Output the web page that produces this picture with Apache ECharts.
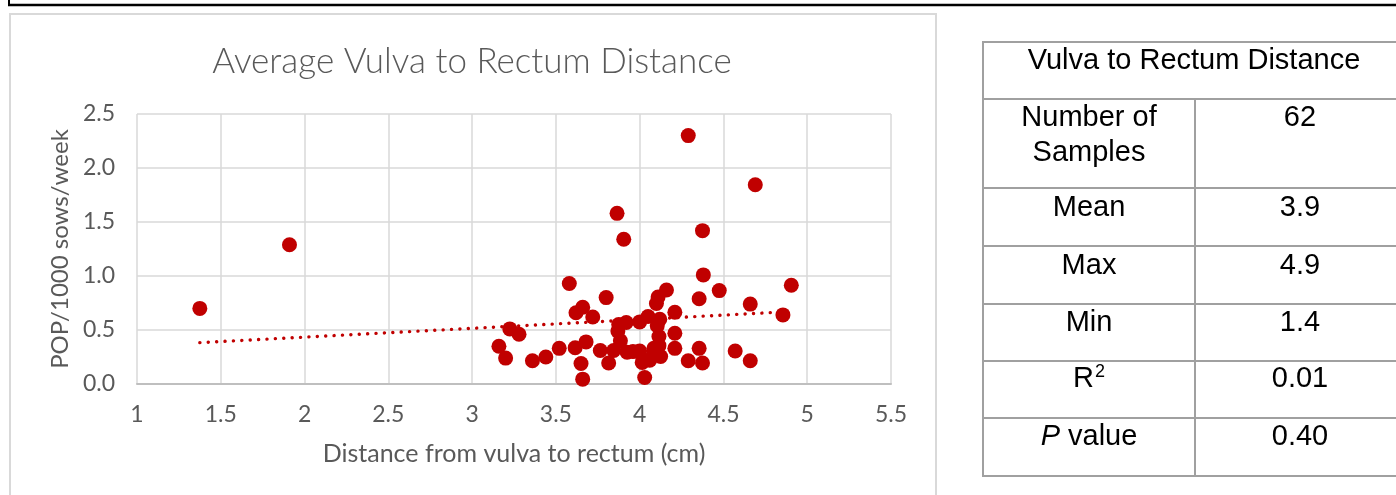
<!DOCTYPE html>
<html>
<head>
<meta charset="utf-8">
<script src="https://cdn.jsdelivr.net/npm/echarts@6/dist/echarts.min.js"></script>
<style>
html,body{margin:0;padding:0;background:#fff;}
#c{width:1396px;height:495px;}
</style>
</head>
<body>
<div id="c"></div>
<script>
// ---- data ----
const distanceCm = [1.375,1.91,3.16,3.20,3.225,3.28,3.36,3.44,3.52,3.58,3.615,3.62,3.65,3.66,3.66,3.68,3.72,3.765,3.80,3.815,3.845,3.865,3.87,3.885,3.905,3.92,3.925,4.0,4.0,4.015,4.03,4.05,4.08,4.10,4.105,4.11,4.115,4.115,4.125,4.16,4.21,4.21,4.21,4.29,4.29,4.355,4.355,4.375,4.375,4.38,4.475,4.57,4.66,4.66,4.69,4.855,4.905,3.875,3.96,4.12,4.085,4.06];
const popPer1000 = [0.70,1.29,0.35,0.24,0.51,0.46,0.215,0.25,0.33,0.93,0.335,0.66,0.19,0.045,0.71,0.39,0.62,0.31,0.80,0.195,0.31,1.58,0.49,0.40,1.34,0.57,0.295,0.575,0.305,0.20,0.06,0.625,0.265,0.745,0.54,0.805,0.44,0.355,0.255,0.87,0.665,0.47,0.33,2.30,0.215,0.79,0.33,0.195,1.42,1.01,0.865,0.305,0.74,0.215,1.845,0.64,0.915,0.55,0.30,0.60,0.33,0.22];
const trendX = [1.375, 4.905];
const trendY = [0.383, 0.671];
const xTicks = [1,1.5,2,2.5,3,3.5,4,4.5,5,5.5];
const yTicks = ['0.0','0.5','1.0','1.5','2.0','2.5'];
const tableHeader = 'Vulva to Rectum Distance';
const tableLabels = ['Number of\nSamples','Mean','Max','Min','{n|R}{s|2}','{i|P} value'];
const tableValues = ['62','3.9','4.9','1.4','0.01','0.40'];

const chart = echarts.init(document.getElementById('c'), null, {renderer:'canvas'});
const points = distanceCm.map((x,i)=>[x, popPer1000[i]]);
const trend = trendX.map((x,i)=>[x, trendY[i]]);

const labelFont = 'Lato, "Open Sans", sans-serif';
const tblFont = '"Liberation Sans", Arial, sans-serif';
const gridCol = '#d9d9d9';
const tblLine = '#a0a0a0';
const TF = 29;

// table geometry
const tL = 983, tT = 42, tHead = 99, tDiv = 1195, tR = 1410;
const rowLines = [99,188,246,304,361,418,476];
const rowTextY = [118,208,266,323,379,437];
const leftCx = 1089, rightCx = 1300;

const g = [];
// top black frame corner
g.push({type:'line', shape:{x1:8, y1:5, x2:1400, y2:5}, style:{stroke:'#000', lineWidth:2.5}, silent:true});
g.push({type:'line', shape:{x1:9, y1:-2, x2:9, y2:5}, style:{stroke:'#000', lineWidth:2}, silent:true});
// chart area box
g.push({type:'rect', shape:{x:10, y:14, width:926, height:500}, style:{fill:'none', stroke:gridCol, lineWidth:2}, silent:true});
// table
g.push({type:'rect', shape:{x:tL, y:tT, width:tR-tL, height:rowLines[rowLines.length-1]-tT}, style:{fill:'none', stroke:tblLine, lineWidth:2}, silent:true});
rowLines.slice(0,-1).forEach(y=>{
  g.push({type:'line', shape:{x1:tL, y1:y, x2:tR, y2:y}, style:{stroke:tblLine, lineWidth:2}, silent:true});
});
g.push({type:'line', shape:{x1:tDiv, y1:tHead, x2:tDiv, y2:rowLines[rowLines.length-1]}, style:{stroke:tblLine, lineWidth:2}, silent:true});
g.push({type:'text', x:1194, y:61, style:{text:tableHeader, font:TF+'px '+tblFont, fill:'#000', align:'center', verticalAlign:'middle'}});
tableLabels.forEach((t,i)=>{
  const multi = t.indexOf('\n')>=0;
  g.push({type:'text', x:leftCx, y: multi ? rowTextY[i]-17.5 : rowTextY[i], style:{text:t, font:TF+'px '+tblFont, fontSize:TF, fontFamily:tblFont, fill:'#000', align:'center', verticalAlign: multi ? 'top' : 'middle', lineHeight:35,
    rich:{
      i:{fontStyle:'italic', fontSize:TF, fontFamily:tblFont, fill:'#000', lineHeight:35},
      n:{fontSize:TF, fontFamily:tblFont, fill:'#000', lineHeight:35},
      s:{fontSize:18, fontFamily:tblFont, fill:'#000', verticalAlign:'top', lineHeight:35, padding:[2,0,0,1]}
    }}});
  g.push({type:'text', x:rightCx, y:rowTextY[i], style:{text:tableValues[i], font:TF+'px '+tblFont, fill:'#000', align:'center', verticalAlign:'middle'}});
});

chart.setOption({
  animation:false,
  backgroundColor:'#fff',
  title:{text:'Average Vulva to Rectum Distance', left:467, textAlign:'center', top:39,
    textStyle:{fontFamily:labelFont, fontWeight:300, fontSize:35, color:'#595959'}},
  grid:{left:137, right:505, top:114, bottom:111, containLabel:false},
  xAxis:{type:'value', min:1, max:5.5, interval:0.5,
    name:'Distance from vulva to rectum (cm)', nameLocation:'middle', nameGap:57,
    nameTextStyle:{fontFamily:labelFont, fontSize:25, color:'#595959'},
    axisLine:{show:true, lineStyle:{color:'#bfbfbf', width:2}},
    axisTick:{show:false},
    axisLabel:{margin:19, fontFamily:labelFont, fontSize:23, color:'#595959',
      formatter:(v)=>{const k=xTicks.findIndex(t=>Math.abs(t-v)<1e-6); return k>=0? String(xTicks[k]) : '';}},
    splitLine:{show:true, lineStyle:{color:gridCol, width:1.5}}},
  yAxis:{type:'value', min:0, max:2.5, interval:0.5,
    name:'POP/1000 sows/week', nameLocation:'middle', nameGap:64,
    nameTextStyle:{fontFamily:labelFont, fontSize:24, color:'#595959'},
    axisLine:{show:false}, axisTick:{show:false},
    axisLabel:{margin:22, fontFamily:labelFont, fontSize:23, color:'#595959',
      formatter:(v)=>{const k=Math.round(v/0.5); return yTicks[k]!==undefined? yTicks[k] : '';}},
    splitLine:{show:true, lineStyle:{color:gridCol, width:1.5}}},
  series:[
    {type:'line', data:trend, symbol:'none', z:1,
     lineStyle:{color:'#C00000', width:3.4, type:[0.1,8.3], cap:'round'}},
    {type:'scatter', data:points, symbol:'circle', symbolSize:15, z:2,
     itemStyle:{color:'#C00000', opacity:1}}
  ],
  graphic:g
});
</script>
</body>
</html>
